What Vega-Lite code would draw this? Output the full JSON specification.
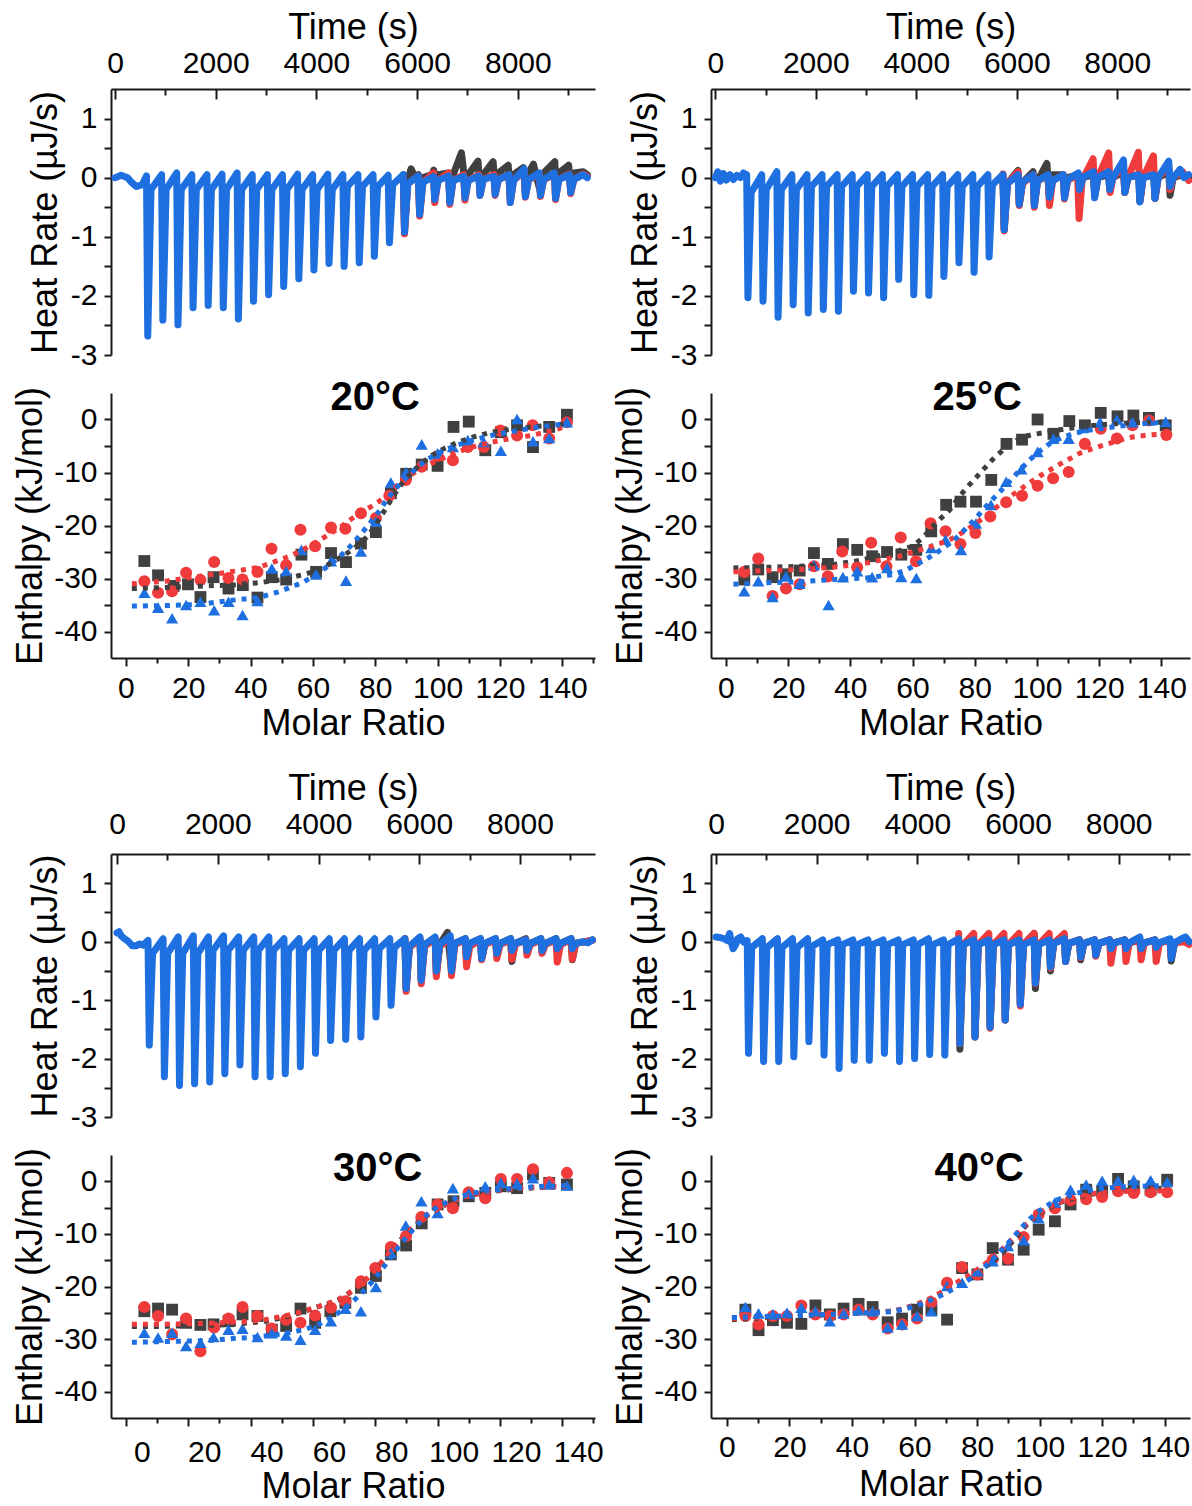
{
"$schema": "https://vega.github.io/schema/vega-lite/v6.json",
"background": "white",
"padding": {"left": 12, "top": 9, "right": 0, "bottom": 0},
"config": {
 "view": {"stroke": null},
 "font": "Liberation Sans",
 "axis": {"grid": false, "domainColor": "#1a1a1a", "tickColor": "#1a1a1a", "domainWidth": 2, "tickWidth": 2, "labelFont": "Liberation Sans", "labelFontSize": 30, "labelColor": "#000000", "titleFont": "Liberation Sans", "titleFontSize": 36, "titleFontWeight": "normal", "titleColor": "#000000", "labelFlush": false, "labelOverlap": false}
},
"datasets": {
 "tAb": [{"t":0,"h":0},{"t":120,"h":0.04},{"t":250,"h":0},{"t":330,"h":-0.08},{"t":420,"h":-0.15},{"t":540,"h":-0.12},
  {"t":625,"h":0.03},{"t":650,"h":-2.68},{"t":715,"h":-0.2},
  {"t":925,"h":0.05},{"t":950,"h":-2.41},{"t":1015,"h":-0.2},
  {"t":1225,"h":0.08},{"t":1250,"h":-2.49},{"t":1315,"h":-0.2},
  {"t":1525,"h":0.05},{"t":1550,"h":-2.2},{"t":1615,"h":-0.2},
  {"t":1825,"h":0.05},{"t":1850,"h":-2.16},{"t":1915,"h":-0.2},
  {"t":2125,"h":0.06},{"t":2150,"h":-2.2},{"t":2215,"h":-0.2},
  {"t":2425,"h":0.08},{"t":2450,"h":-2.39},{"t":2515,"h":-0.2},
  {"t":2725,"h":0.05},{"t":2750,"h":-2.09},{"t":2815,"h":-0.2},
  {"t":3025,"h":0.05},{"t":3050,"h":-1.98},{"t":3115,"h":-0.2},
  {"t":3325,"h":0.05},{"t":3350,"h":-1.84},{"t":3415,"h":-0.2},
  {"t":3625,"h":0.06},{"t":3650,"h":-1.71},{"t":3715,"h":-0.2},
  {"t":3925,"h":0.05},{"t":3950,"h":-1.56},{"t":4015,"h":-0.2},
  {"t":4225,"h":0.06},{"t":4250,"h":-1.45},{"t":4315,"h":-0.2},
  {"t":4525,"h":0.05},{"t":4550,"h":-1.5},{"t":4615,"h":-0.15},
  {"t":4825,"h":0.05},{"t":4850,"h":-1.44},{"t":4915,"h":-0.15},
  {"t":5125,"h":0.05},{"t":5150,"h":-1.33},{"t":5215,"h":-0.15},
  {"t":5425,"h":0.04},{"t":5450,"h":-1.1},{"t":5515,"h":-0.12},
  {"t":5725,"h":0.05},{"t":5750,"h":-0.92},{"t":5815,"h":-0.1},
  {"t":6025,"h":0.03},{"t":6050,"h":-0.62},{"t":6115,"h":-0.08},
  {"t":6325,"h":0.02},{"t":6350,"h":-0.37},{"t":6415,"h":-0.05},
  {"t":6625,"h":0.03},{"t":6650,"h":-0.42},{"t":6715,"h":-0.05},
  {"t":6925,"h":0.02},{"t":6950,"h":-0.34},{"t":7015,"h":-0.05},
  {"t":7225,"h":0.03},{"t":7250,"h":-0.3},{"t":7315,"h":-0.03},
  {"t":7525,"h":0.02},{"t":7550,"h":-0.28},{"t":7615,"h":-0.03},
  {"t":7825,"h":0.05},{"t":7850,"h":-0.42},{"t":7915,"h":-0.05},
  {"t":8125,"h":0.15},{"t":8150,"h":-0.32},{"t":8215,"h":-0.03},
  {"t":8425,"h":0.08},{"t":8450,"h":-0.3},{"t":8515,"h":-0.03},
  {"t":8725,"h":0.08},{"t":8750,"h":-0.35},{"t":8815,"h":-0.03},
  {"t":9025,"h":0.05},{"t":9050,"h":-0.25},{"t":9115,"h":-0.03},
  {"t":9300,"h":0.05},{"t":9380,"h":0}],
 "tAr": [{"t":5725,"h":0.03},{"t":5750,"h":-0.95},{"t":5815,"h":-0.1},{"t":6025,"h":0.03},{"t":6050,"h":-0.65},{"t":6115,"h":-0.08},{"t":6325,"h":0.08},{"t":6350,"h":-0.42},{"t":6415,"h":-0.05},{"t":6625,"h":0.08},{"t":6650,"h":-0.45},{"t":6715,"h":-0.05},{"t":6925,"h":0.05},{"t":6950,"h":-0.38},{"t":7015,"h":-0.05},{"t":7225,"h":0.05},{"t":7250,"h":-0.3},{"t":7315,"h":-0.03},{"t":7525,"h":0.05},{"t":7550,"h":-0.3},{"t":7615,"h":-0.03},{"t":7825,"h":0.05},{"t":7850,"h":-0.42},{"t":7915,"h":-0.05},{"t":8125,"h":0.12},{"t":8150,"h":-0.33},{"t":8215,"h":-0.03},{"t":8425,"h":0.05},{"t":8450,"h":-0.32},{"t":8515,"h":-0.03},{"t":8725,"h":0.05},{"t":8750,"h":-0.37},{"t":8815,"h":-0.03},{"t":9025,"h":0.06},{"t":9050,"h":-0.27},{"t":9115,"h":-0.03},{"t":9300,"h":0.06},{"t":9380,"h":0.02}],
 "tAk": [{"t":5725,"h":0.05},{"t":5750,"h":-0.9},{"t":5815,"h":-0.05},{"t":5880,"h":0.15},{"t":5950,"h":0.02},{"t":6025,"h":0.05},{"t":6050,"h":-0.6},{"t":6115,"h":0},{"t":6300,"h":0.05},{"t":6330,"h":0.13},{"t":6350,"h":-0.35},{"t":6415,"h":0.05},{"t":6625,"h":0.08},{"t":6650,"h":-0.38},{"t":6715,"h":0.05},{"t":6880,"h":0.42},{"t":6925,"h":0.1},{"t":6950,"h":-0.3},{"t":7015,"h":0.05},{"t":7210,"h":0.28},{"t":7250,"h":-0.25},{"t":7315,"h":0.05},{"t":7510,"h":0.27},{"t":7550,"h":-0.2},{"t":7615,"h":0.08},{"t":7810,"h":0.21},{"t":7850,"h":-0.35},{"t":7915,"h":0.05},{"t":8110,"h":0.17},{"t":8150,"h":-0.25},{"t":8215,"h":0.08},{"t":8310,"h":0.23},{"t":8360,"h":0.05},{"t":8450,"h":-0.25},{"t":8515,"h":0.08},{"t":8735,"h":0.27},{"t":8760,"h":-0.3},{"t":8815,"h":0.08},{"t":9010,"h":0.21},{"t":9050,"h":-0.2},{"t":9115,"h":0.08},{"t":9300,"h":0.1},{"t":9380,"h":0.05}],
 "tBb": [{"t":0,"h":0},{"t":50,"h":0.1},{"t":100,"h":-0.06},{"t":160,"h":0.07},{"t":220,"h":-0.04},{"t":290,"h":0.05},{"t":360,"h":-0.03},{"t":430,"h":0.04},{"t":500,"h":0},{"t":560,"h":0.08},{"t":600,"h":0.02},
  {"t":625,"h":0.05},{"t":650,"h":-2.03},{"t":715,"h":-0.25},
  {"t":925,"h":0.05},{"t":950,"h":-2.09},{"t":1015,"h":-0.2},
  {"t":1225,"h":0.1},{"t":1250,"h":-2.36},{"t":1315,"h":-0.2},
  {"t":1525,"h":0.05},{"t":1550,"h":-2.15},{"t":1615,"h":-0.2},
  {"t":1825,"h":0.05},{"t":1850,"h":-2.29},{"t":1915,"h":-0.15},
  {"t":2125,"h":0.05},{"t":2150,"h":-2.23},{"t":2215,"h":-0.15},
  {"t":2425,"h":0.05},{"t":2450,"h":-2.26},{"t":2515,"h":-0.15},
  {"t":2725,"h":0.05},{"t":2750,"h":-1.92},{"t":2815,"h":-0.15},
  {"t":3025,"h":0.05},{"t":3050,"h":-1.95},{"t":3115,"h":-0.15},
  {"t":3325,"h":0.05},{"t":3350,"h":-2.03},{"t":3415,"h":-0.15},
  {"t":3625,"h":0.05},{"t":3650,"h":-1.72},{"t":3715,"h":-0.15},
  {"t":3925,"h":0.05},{"t":3950,"h":-1.98},{"t":4015,"h":-0.15},
  {"t":4225,"h":0.05},{"t":4250,"h":-1.99},{"t":4315,"h":-0.15},
  {"t":4525,"h":0.05},{"t":4550,"h":-1.67},{"t":4615,"h":-0.15},
  {"t":4825,"h":0.05},{"t":4850,"h":-1.44},{"t":4915,"h":-0.15},
  {"t":5125,"h":0.05},{"t":5150,"h":-1.6},{"t":5215,"h":-0.15},
  {"t":5425,"h":0.05},{"t":5450,"h":-1.34},{"t":5515,"h":-0.12},
  {"t":5725,"h":0.05},{"t":5750,"h":-0.88},{"t":5815,"h":-0.1},
  {"t":6025,"h":0.05},{"t":6050,"h":-0.45},{"t":6115,"h":-0.08},
  {"t":6325,"h":0.05},{"t":6350,"h":-0.47},{"t":6415,"h":-0.05},
  {"t":6625,"h":0.05},{"t":6650,"h":-0.33},{"t":6715,"h":-0.05},
  {"t":6925,"h":0.05},{"t":6950,"h":-0.34},{"t":7015,"h":-0.03},
  {"t":7225,"h":0.08},{"t":7250,"h":-0.2},{"t":7315,"h":0},
  {"t":7525,"h":0.1},{"t":7550,"h":-0.34},{"t":7615,"h":0},
  {"t":7825,"h":0.1},{"t":7850,"h":-0.2},{"t":7915,"h":0},
  {"t":8125,"h":0.3},{"t":8150,"h":-0.25},{"t":8215,"h":0},
  {"t":8425,"h":0.05},{"t":8450,"h":-0.41},{"t":8515,"h":0},
  {"t":8725,"h":0.05},{"t":8750,"h":-0.35},{"t":8815,"h":0},
  {"t":9025,"h":0.28},{"t":9050,"h":-0.15},{"t":9115,"h":0},
  {"t":9250,"h":0.14},{"t":9330,"h":0},{"t":9420,"h":0.05}],
 "tBr": [{"t":5725,"h":0.06},{"t":5750,"h":-0.9},{"t":5815,"h":-0.1},{"t":6025,"h":0.1},{"t":6050,"h":-0.47},{"t":6115,"h":-0.1},{"t":6325,"h":0.05},{"t":6350,"h":-0.5},{"t":6415,"h":-0.05},{"t":6625,"h":0.03},{"t":6650,"h":-0.47},{"t":6715,"h":-0.05},{"t":6925,"h":0.05},{"t":6950,"h":-0.36},{"t":7015,"h":-0.05},{"t":7210,"h":0.05},{"t":7240,"h":-0.69},{"t":7300,"h":-0.05},{"t":7520,"h":0.32},{"t":7555,"h":-0.3},{"t":7615,"h":0},{"t":7830,"h":0.42},{"t":7860,"h":-0.25},{"t":7915,"h":0},{"t":8125,"h":0.2},{"t":8150,"h":-0.25},{"t":8215,"h":0},{"t":8420,"h":0.43},{"t":8455,"h":-0.4},{"t":8515,"h":0},{"t":8720,"h":0.37},{"t":8755,"h":-0.35},{"t":8815,"h":0},{"t":9025,"h":0.2},{"t":9050,"h":-0.2},{"t":9115,"h":0},{"t":9300,"h":0.1},{"t":9420,"h":-0.05}],
 "tBk": [{"t":5725,"h":0.05},{"t":5750,"h":-0.88},{"t":5815,"h":-0.1},{"t":6025,"h":0.12},{"t":6050,"h":-0.45},{"t":6115,"h":-0.08},{"t":6325,"h":0.1},{"t":6350,"h":-0.45},{"t":6415,"h":-0.05},{"t":6600,"h":0.24},{"t":6650,"h":-0.35},{"t":6715,"h":0.05},{"t":6925,"h":0.05},{"t":6950,"h":-0.3},{"t":7015,"h":0},{"t":7225,"h":0.05},{"t":7250,"h":-0.2},{"t":7315,"h":0},{"t":7525,"h":0.05},{"t":7550,"h":-0.3},{"t":7615,"h":0},{"t":7825,"h":0.05},{"t":7850,"h":-0.2},{"t":7915,"h":0},{"t":8125,"h":0.1},{"t":8150,"h":-0.25},{"t":8215,"h":0},{"t":8425,"h":0.05},{"t":8450,"h":-0.4},{"t":8515,"h":0},{"t":8725,"h":0.05},{"t":8750,"h":-0.35},{"t":8815,"h":0},{"t":9025,"h":0.1},{"t":9050,"h":-0.3},{"t":9115,"h":0},{"t":9300,"h":0.05},{"t":9420,"h":0}],
 "tCb": [{"t":0,"h":0.15},{"t":40,"h":0.17},{"t":80,"h":0.1},{"t":150,"h":0.05},{"t":230,"h":0},{"t":300,"h":-0.07},{"t":380,"h":-0.07},{"t":450,"h":-0.04},{"t":520,"h":-0.06},{"t":590,"h":0},
  {"t":615,"h":0.02},{"t":640,"h":-1.77},{"t":705,"h":-0.2},
  {"t":915,"h":0.05},{"t":940,"h":-2.31},{"t":1005,"h":-0.2},
  {"t":1215,"h":0.08},{"t":1240,"h":-2.46},{"t":1305,"h":-0.2},
  {"t":1515,"h":0.1},{"t":1540,"h":-2.43},{"t":1605,"h":-0.2},
  {"t":1815,"h":0.08},{"t":1840,"h":-2.4},{"t":1905,"h":-0.15},
  {"t":2115,"h":0.1},{"t":2140,"h":-2.26},{"t":2205,"h":-0.15},
  {"t":2415,"h":0.08},{"t":2440,"h":-2.11},{"t":2505,"h":-0.15},
  {"t":2715,"h":0.08},{"t":2740,"h":-2.31},{"t":2805,"h":-0.15},
  {"t":3015,"h":0.08},{"t":3040,"h":-2.31},{"t":3105,"h":-0.15},
  {"t":3315,"h":0.05},{"t":3340,"h":-2.26},{"t":3405,"h":-0.15},
  {"t":3615,"h":0.05},{"t":3640,"h":-2.14},{"t":3705,"h":-0.15},
  {"t":3915,"h":0.05},{"t":3940,"h":-1.91},{"t":4005,"h":-0.15},
  {"t":4215,"h":0.05},{"t":4240,"h":-1.69},{"t":4305,"h":-0.15},
  {"t":4515,"h":0.05},{"t":4540,"h":-1.67},{"t":4605,"h":-0.15},
  {"t":4815,"h":0.05},{"t":4840,"h":-1.63},{"t":4905,"h":-0.15},
  {"t":5115,"h":0.05},{"t":5140,"h":-1.29},{"t":5205,"h":-0.12},
  {"t":5415,"h":0.05},{"t":5440,"h":-1.09},{"t":5505,"h":-0.1},
  {"t":5715,"h":0.05},{"t":5740,"h":-0.8},{"t":5805,"h":-0.08},
  {"t":6015,"h":0.08},{"t":6040,"h":-0.66},{"t":6105,"h":-0.05},
  {"t":6315,"h":0.08},{"t":6340,"h":-0.5},{"t":6405,"h":-0.05},
  {"t":6615,"h":0.1},{"t":6640,"h":-0.5},{"t":6705,"h":-0.03},
  {"t":6915,"h":0.05},{"t":6940,"h":-0.26},{"t":7005,"h":-0.03},
  {"t":7215,"h":0.05},{"t":7240,"h":-0.29},{"t":7305,"h":-0.03},
  {"t":7515,"h":0.05},{"t":7540,"h":-0.2},{"t":7605,"h":-0.03},
  {"t":7815,"h":0.05},{"t":7840,"h":-0.15},{"t":7905,"h":-0.03},
  {"t":8115,"h":0.03},{"t":8140,"h":-0.15},{"t":8205,"h":-0.03},
  {"t":8415,"h":0.05},{"t":8440,"h":-0.15},{"t":8505,"h":-0.03},
  {"t":8715,"h":0.05},{"t":8740,"h":-0.12},{"t":8805,"h":-0.03},
  {"t":9015,"h":0.05},{"t":9040,"h":-0.12},{"t":9105,"h":-0.03},
  {"t":9250,"h":0},{"t":9350,"h":-0.02},{"t":9440,"h":0.03}],
 "tCr": [{"t":5715,"h":0.05},{"t":5740,"h":-0.85},{"t":5805,"h":-0.1},{"t":6015,"h":0.05},{"t":6040,"h":-0.72},{"t":6105,"h":-0.08},{"t":6315,"h":0.05},{"t":6340,"h":-0.6},{"t":6405,"h":-0.08},{"t":6615,"h":0.05},{"t":6640,"h":-0.58},{"t":6705,"h":-0.05},{"t":6915,"h":0.03},{"t":6940,"h":-0.43},{"t":7005,"h":-0.08},{"t":7215,"h":0.03},{"t":7240,"h":-0.31},{"t":7305,"h":-0.05},{"t":7515,"h":0.03},{"t":7540,"h":-0.29},{"t":7605,"h":-0.05},{"t":7815,"h":0.03},{"t":7840,"h":-0.3},{"t":7905,"h":-0.05},{"t":8115,"h":0.03},{"t":8140,"h":-0.23},{"t":8205,"h":-0.05},{"t":8415,"h":0.03},{"t":8440,"h":-0.2},{"t":8505,"h":-0.05},{"t":8715,"h":0.03},{"t":8740,"h":-0.35},{"t":8805,"h":-0.05},{"t":9015,"h":0.03},{"t":9040,"h":-0.3},{"t":9105,"h":-0.03},{"t":9300,"h":0},{"t":9440,"h":0.02}],
 "tCk": [{"t":5715,"h":0.05},{"t":5740,"h":-0.8},{"t":5805,"h":-0.08},{"t":6015,"h":0.05},{"t":6040,"h":-0.66},{"t":6105,"h":-0.05},{"t":6315,"h":0.05},{"t":6340,"h":-0.56},{"t":6405,"h":-0.05},{"t":6560,"h":0.16},{"t":6640,"h":-0.5},{"t":6705,"h":-0.03},{"t":6915,"h":0.05},{"t":6940,"h":-0.3},{"t":7005,"h":-0.03},{"t":7215,"h":0.05},{"t":7240,"h":-0.29},{"t":7305,"h":-0.03},{"t":7515,"h":0.05},{"t":7540,"h":-0.22},{"t":7605,"h":-0.03},{"t":7815,"h":0.05},{"t":7840,"h":-0.34},{"t":7905,"h":-0.03},{"t":8115,"h":0.05},{"t":8140,"h":-0.18},{"t":8205,"h":-0.03},{"t":8415,"h":0.05},{"t":8440,"h":-0.18},{"t":8505,"h":-0.03},{"t":8715,"h":0.05},{"t":8740,"h":-0.15},{"t":8805,"h":-0.03},{"t":9015,"h":0.05},{"t":9040,"h":-0.31},{"t":9105,"h":-0.03},{"t":9300,"h":0},{"t":9440,"h":0.03}],
 "tDb": [{"t":0,"h":0.08},{"t":80,"h":0.07},{"t":160,"h":0.05},{"t":220,"h":0.02},{"t":270,"h":0.14},{"t":300,"h":0},{"t":340,"h":-0.12},{"t":390,"h":-0.05},{"t":430,"h":0.05},{"t":490,"h":0.08},{"t":540,"h":0},{"t":600,"h":-0.03},
  {"t":620,"h":0.02},{"t":645,"h":-1.91},{"t":710,"h":-0.1},
  {"t":920,"h":0.05},{"t":945,"h":-2.05},{"t":1010,"h":-0.1},
  {"t":1220,"h":0.05},{"t":1245,"h":-2.05},{"t":1310,"h":-0.1},
  {"t":1520,"h":0.05},{"t":1545,"h":-1.97},{"t":1610,"h":-0.1},
  {"t":1820,"h":0.05},{"t":1845,"h":-1.71},{"t":1910,"h":-0.08},
  {"t":2120,"h":0.03},{"t":2145,"h":-1.94},{"t":2210,"h":-0.05},
  {"t":2420,"h":0.03},{"t":2445,"h":-2.17},{"t":2510,"h":-0.05},
  {"t":2720,"h":0.03},{"t":2745,"h":-2.03},{"t":2810,"h":-0.05},
  {"t":3020,"h":0.03},{"t":3045,"h":-2.03},{"t":3110,"h":-0.05},
  {"t":3320,"h":0.03},{"t":3345,"h":-1.91},{"t":3410,"h":-0.05},
  {"t":3620,"h":0.03},{"t":3645,"h":-2.05},{"t":3710,"h":-0.05},
  {"t":3920,"h":0.03},{"t":3945,"h":-2.0},{"t":4010,"h":-0.05},
  {"t":4220,"h":0.05},{"t":4245,"h":-1.93},{"t":4310,"h":-0.05},
  {"t":4520,"h":0.03},{"t":4545,"h":-1.94},{"t":4610,"h":-0.05},
  {"t":4820,"h":0.05},{"t":4845,"h":-1.74},{"t":4910,"h":-0.05},
  {"t":5120,"h":0.03},{"t":5145,"h":-1.63},{"t":5210,"h":-0.05},
  {"t":5420,"h":0.03},{"t":5445,"h":-1.46},{"t":5510,"h":-0.05},
  {"t":5720,"h":0.03},{"t":5745,"h":-1.34},{"t":5810,"h":-0.05},
  {"t":6020,"h":0.03},{"t":6045,"h":-1.07},{"t":6110,"h":-0.05},
  {"t":6320,"h":0.03},{"t":6345,"h":-0.71},{"t":6410,"h":-0.05},
  {"t":6620,"h":0.03},{"t":6645,"h":-0.43},{"t":6710,"h":-0.03},
  {"t":6920,"h":0.05},{"t":6945,"h":-0.34},{"t":7010,"h":-0.03},
  {"t":7220,"h":0.03},{"t":7245,"h":-0.26},{"t":7310,"h":-0.03},
  {"t":7520,"h":0.03},{"t":7545,"h":-0.23},{"t":7610,"h":-0.03},
  {"t":7820,"h":0.03},{"t":7845,"h":-0.12},{"t":7910,"h":-0.02},
  {"t":8120,"h":0.03},{"t":8145,"h":-0.12},{"t":8210,"h":-0.02},
  {"t":8420,"h":0.08},{"t":8445,"h":-0.12},{"t":8510,"h":-0.02},
  {"t":8720,"h":0.03},{"t":8745,"h":-0.1},{"t":8810,"h":-0.02},
  {"t":9020,"h":0.05},{"t":9045,"h":-0.29},{"t":9110,"h":-0.02},
  {"t":9250,"h":0.05},{"t":9330,"h":0.08},{"t":9400,"h":0}],
 "tDr": [{"t":4820,"h":0.14},{"t":4845,"h":-1.74},{"t":4910,"h":-0.05},{"t":5120,"h":0.14},{"t":5145,"h":-1.63},{"t":5210,"h":-0.05},{"t":5420,"h":0.14},{"t":5445,"h":-1.48},{"t":5510,"h":-0.05},{"t":5720,"h":0.14},{"t":5745,"h":-1.34},{"t":5810,"h":-0.05},{"t":6020,"h":0.14},{"t":6045,"h":-1.1},{"t":6110,"h":-0.05},{"t":6320,"h":0.14},{"t":6345,"h":-0.72},{"t":6410,"h":-0.05},{"t":6620,"h":0.14},{"t":6645,"h":-0.45},{"t":6710,"h":-0.03},{"t":6920,"h":0.14},{"t":6945,"h":-0.34},{"t":7010,"h":-0.03},{"t":7220,"h":0.03},{"t":7245,"h":-0.27},{"t":7310,"h":-0.03},{"t":7520,"h":0.03},{"t":7545,"h":-0.25},{"t":7610,"h":-0.03},{"t":7820,"h":0.03},{"t":7845,"h":-0.37},{"t":7910,"h":-0.02},{"t":8120,"h":0.03},{"t":8145,"h":-0.34},{"t":8210,"h":-0.02},{"t":8420,"h":0.03},{"t":8445,"h":-0.31},{"t":8510,"h":-0.02},{"t":8720,"h":0.03},{"t":8745,"h":-0.34},{"t":8810,"h":-0.02},{"t":9020,"h":0.03},{"t":9045,"h":-0.27},{"t":9110,"h":-0.02},{"t":9300,"h":0},{"t":9400,"h":-0.05}],
 "tDk": [{"t":4820,"h":0.05},{"t":4845,"h":-1.84},{"t":4910,"h":-0.05},{"t":5120,"h":0.03},{"t":5145,"h":-1.63},{"t":5210,"h":-0.05},{"t":5420,"h":0.03},{"t":5445,"h":-1.46},{"t":5510,"h":-0.05},{"t":5720,"h":0.03},{"t":5745,"h":-1.34},{"t":5810,"h":-0.05},{"t":6020,"h":0.03},{"t":6045,"h":-1.07},{"t":6110,"h":-0.05},{"t":6320,"h":0.14},{"t":6345,"h":-0.8},{"t":6410,"h":-0.05},{"t":6620,"h":0.05},{"t":6645,"h":-0.5},{"t":6710,"h":-0.03},{"t":6920,"h":0.05},{"t":6945,"h":-0.34},{"t":7010,"h":-0.03},{"t":7220,"h":0.03},{"t":7245,"h":-0.31},{"t":7310,"h":-0.03},{"t":7520,"h":0.03},{"t":7545,"h":-0.23},{"t":7610,"h":-0.03},{"t":7820,"h":0.03},{"t":7845,"h":-0.15},{"t":7910,"h":-0.02},{"t":8120,"h":0.03},{"t":8145,"h":-0.15},{"t":8210,"h":-0.02},{"t":8420,"h":0.03},{"t":8445,"h":-0.15},{"t":8510,"h":-0.02},{"t":8720,"h":0.03},{"t":8745,"h":-0.12},{"t":8810,"h":-0.02},{"t":9020,"h":0.03},{"t":9045,"h":-0.33},{"t":9110,"h":-0.02},{"t":9300,"h":0.05},{"t":9400,"h":0}],
 "iA": [
  {"s":"k","x":5.9,"y":-26.7},{"s":"k","x":10.3,"y":-29.4},{"s":"k","x":15.3,"y":-31.4},{"s":"k","x":19.9,"y":-31.1},{"s":"k","x":23.9,"y":-33.5},{"s":"k","x":28.1,"y":-29.75},{"s":"k","x":32.9,"y":-31.9},{"s":"k","x":37.5,"y":-31.25},{"s":"k","x":42.2,"y":-33.6},{"s":"k","x":46.8,"y":-29.75},{"s":"k","x":51.4,"y":-30.2},{"s":"k","x":56.3,"y":-25.5},{"s":"k","x":61,"y":-28.75},{"s":"k","x":65.8,"y":-25.2},{"s":"k","x":70.6,"y":-26.9},{"s":"k","x":75.4,"y":-23.4},{"s":"k","x":80.2,"y":-21.25},{"s":"k","x":85,"y":-13.9},{"s":"k","x":89.9,"y":-10.25},{"s":"k","x":94.9,"y":-8.5},{"s":"k","x":100,"y":-8.75},{"s":"k","x":105.1,"y":-1.4},{"s":"k","x":110,"y":-0.4},{"s":"k","x":115.3,"y":-5.8},{"s":"k","x":120.3,"y":-2.4},{"s":"k","x":125.5,"y":-1.1},{"s":"k","x":130.6,"y":-5.2},{"s":"k","x":135.8,"y":-1.4},{"s":"k","x":141.5,"y":0.9},
  {"s":"r","x":5.9,"y":-30.5},{"s":"r","x":10.3,"y":-32.7},{"s":"r","x":14.8,"y":-32.4},{"s":"r","x":19.3,"y":-28.9},{"s":"r","x":23.9,"y":-30.3},{"s":"r","x":28.3,"y":-26.9},{"s":"r","x":32.9,"y":-29.9},{"s":"r","x":37.4,"y":-30.2},{"s":"r","x":42.2,"y":-28.75},{"s":"r","x":46.7,"y":-24.4},{"s":"r","x":51.4,"y":-27.5},{"s":"r","x":56,"y":-20.8},{"s":"r","x":60.7,"y":-23.9},{"s":"r","x":65.8,"y":-20.4},{"s":"r","x":70.4,"y":-20.6},{"s":"r","x":75.4,"y":-17.7},{"s":"r","x":80.2,"y":-18.6},{"s":"r","x":84.5,"y":-14.4},{"s":"r","x":89.8,"y":-11.4},{"s":"r","x":94.9,"y":-8.9},{"s":"r","x":100,"y":-6.9},{"s":"r","x":104.9,"y":-7.7},{"s":"r","x":109.7,"y":-5.2},{"s":"r","x":114.8,"y":-5.2},{"s":"r","x":120.1,"y":-2.1},{"s":"r","x":125.5,"y":-3},{"s":"r","x":130.5,"y":-1.1},{"s":"r","x":135.8,"y":-3.6},{"s":"r","x":141.5,"y":-0.5},
  {"s":"b","x":5.9,"y":-32.7},{"s":"b","x":10.3,"y":-35.5},{"s":"b","x":14.8,"y":-37.5},{"s":"b","x":19.3,"y":-35},{"s":"b","x":23.9,"y":-34.4},{"s":"b","x":28.3,"y":-36},{"s":"b","x":32.9,"y":-34.4},{"s":"b","x":37.4,"y":-36.9},{"s":"b","x":42.2,"y":-34.25},{"s":"b","x":46.8,"y":-28.1},{"s":"b","x":51.4,"y":-28.6},{"s":"b","x":56.3,"y":-24.6},{"s":"b","x":61,"y":-29.25},{"s":"b","x":65.8,"y":-26.75},{"s":"b","x":70.6,"y":-30.4},{"s":"b","x":75.4,"y":-24.9},{"s":"b","x":80.2,"y":-19.25},{"s":"b","x":85,"y":-11.9},{"s":"b","x":89.9,"y":-9.9},{"s":"b","x":94.9,"y":-4.7},{"s":"b","x":100,"y":-6.4},{"s":"b","x":104.9,"y":-5.2},{"s":"b","x":109.7,"y":-3.9},{"s":"b","x":114.8,"y":-4.25},{"s":"b","x":120.3,"y":-5.9},{"s":"b","x":125.5,"y":0.1},{"s":"b","x":130.6,"y":-4.1},{"s":"b","x":135.8,"y":-3.5},{"s":"b","x":141.5,"y":-0.5}],
 "fA": [
  {"s":"k","x":1.9,"y":-31.9},{"s":"k","x":12,"y":-31.7},{"s":"k","x":25,"y":-31.4},{"s":"k","x":35,"y":-31.2},{"s":"k","x":42.6,"y":-30.8},{"s":"k","x":50,"y":-30.2},{"s":"k","x":57,"y":-29.25},{"s":"k","x":62,"y":-28.4},{"s":"k","x":66,"y":-27},{"s":"k","x":69.5,"y":-25.8},{"s":"k","x":72.5,"y":-24.6},{"s":"k","x":75.5,"y":-23.2},{"s":"k","x":77.9,"y":-21.75},{"s":"k","x":80,"y":-20},{"s":"k","x":82.1,"y":-18},{"s":"k","x":84.2,"y":-16},{"s":"k","x":86.4,"y":-13.9},{"s":"k","x":89,"y":-11.7},{"s":"k","x":91.8,"y":-9.9},{"s":"k","x":95,"y":-8.2},{"s":"k","x":98.2,"y":-6.75},{"s":"k","x":102,"y":-5.5},{"s":"k","x":106.7,"y":-4.25},{"s":"k","x":112,"y":-3.2},{"s":"k","x":117.4,"y":-2.4},{"s":"k","x":124,"y":-1.8},{"s":"k","x":130.3,"y":-1.4},{"s":"k","x":136,"y":-1.1},{"s":"k","x":141.5,"y":-0.8},
  {"s":"r","x":1.9,"y":-31},{"s":"r","x":12.6,"y":-30.5},{"s":"r","x":23.3,"y":-29.6},{"s":"r","x":35.1,"y":-28.6},{"s":"r","x":42.6,"y":-27.9},{"s":"r","x":51.1,"y":-26.1},{"s":"r","x":55.5,"y":-25},{"s":"r","x":59.7,"y":-23.6},{"s":"r","x":64,"y":-22.1},{"s":"r","x":68.3,"y":-20.5},{"s":"r","x":72,"y":-18.9},{"s":"r","x":75.7,"y":-17.4},{"s":"r","x":78.5,"y":-16.5},{"s":"r","x":81.1,"y":-15.5},{"s":"r","x":85.3,"y":-13.3},{"s":"r","x":89,"y":-11.5},{"s":"r","x":92.8,"y":-9.9},{"s":"r","x":97,"y":-8.5},{"s":"r","x":101.4,"y":-7.4},{"s":"r","x":106,"y":-6.2},{"s":"r","x":111,"y":-5.2},{"s":"r","x":115.8,"y":-4.5},{"s":"r","x":120.6,"y":-3.9},{"s":"r","x":125.5,"y":-3.4},{"s":"r","x":130.3,"y":-3},{"s":"r","x":134.5,"y":-2.4},{"s":"r","x":138.8,"y":-1.75},{"s":"r","x":141.5,"y":-1.1},
  {"s":"b","x":1.9,"y":-35.2},{"s":"b","x":12.6,"y":-35.1},{"s":"b","x":23.3,"y":-34.9},{"s":"b","x":34,"y":-34.1},{"s":"b","x":42.6,"y":-33.6},{"s":"b","x":49.6,"y":-32.4},{"s":"b","x":56.5,"y":-30.8},{"s":"b","x":60.5,"y":-29.5},{"s":"b","x":64,"y":-28},{"s":"b","x":67.3,"y":-26.5},{"s":"b","x":70.4,"y":-24.9},{"s":"b","x":73,"y":-23.3},{"s":"b","x":75.7,"y":-21.4},{"s":"b","x":78.5,"y":-19.4},{"s":"b","x":81.1,"y":-17.4},{"s":"b","x":83.2,"y":-15.6},{"s":"b","x":85.3,"y":-13.9},{"s":"b","x":88,"y":-12.1},{"s":"b","x":90.7,"y":-10.5},{"s":"b","x":94,"y":-8.8},{"s":"b","x":97.1,"y":-7.4},{"s":"b","x":100.8,"y":-6.2},{"s":"b","x":104.6,"y":-5.2},{"s":"b","x":109,"y":-4.3},{"s":"b","x":113.2,"y":-3.6},{"s":"b","x":118,"y":-2.9},{"s":"b","x":122.8,"y":-2.4},{"s":"b","x":127.5,"y":-1.9},{"s":"b","x":132.4,"y":-1.4},{"s":"b","x":137,"y":-1.1},{"s":"b","x":141.5,"y":-0.8}],
 "iB": [
  {"s":"k","x":5.9,"y":-30.2},{"s":"k","x":10.4,"y":-28.3},{"s":"k","x":15,"y":-29.75},{"s":"k","x":19.3,"y":-29.2},{"s":"k","x":23.7,"y":-28.5},{"s":"k","x":28.3,"y":-25.2},{"s":"k","x":32.8,"y":-27.25},{"s":"k","x":37.6,"y":-23.5},{"s":"k","x":42.2,"y":-24.6},{"s":"k","x":47,"y":-25.8},{"s":"k","x":51.8,"y":-25},{"s":"k","x":56.4,"y":-25.5},{"s":"k","x":61.2,"y":-24.6},{"s":"k","x":66,"y":-21.1},{"s":"k","x":70.8,"y":-16.1},{"s":"k","x":75.4,"y":-15.5},{"s":"k","x":80.4,"y":-15.5},{"s":"k","x":85.3,"y":-11.4},{"s":"k","x":90.2,"y":-4.6},{"s":"k","x":95.2,"y":-3.8},{"s":"k","x":100.2,"y":0},{"s":"k","x":105.3,"y":-2.7},{"s":"k","x":110.4,"y":-0.3},{"s":"k","x":115.4,"y":-1.1},{"s":"k","x":120.5,"y":1.25},{"s":"k","x":125.9,"y":0.6},{"s":"k","x":131,"y":0.75},{"s":"k","x":136,"y":0.3},{"s":"k","x":141.4,"y":-1.1},
  {"s":"r","x":5.9,"y":-28.75},{"s":"r","x":10.4,"y":-26.25},{"s":"r","x":15,"y":-33.3},{"s":"r","x":19.3,"y":-31.9},{"s":"r","x":23.7,"y":-31.1},{"s":"r","x":28.3,"y":-27.7},{"s":"r","x":32.8,"y":-29.6},{"s":"r","x":37.4,"y":-24.9},{"s":"r","x":42.2,"y":-27.9},{"s":"r","x":46.7,"y":-23.25},{"s":"r","x":51.6,"y":-27.7},{"s":"r","x":56.2,"y":-22.25},{"s":"r","x":61.1,"y":-26.75},{"s":"r","x":65.8,"y":-19.6},{"s":"r","x":70.6,"y":-21.1},{"s":"r","x":75.4,"y":-23.5},{"s":"r","x":80.2,"y":-21.4},{"s":"r","x":85,"y":-18.3},{"s":"r","x":90.1,"y":-15.6},{"s":"r","x":95.2,"y":-14.4},{"s":"r","x":100.2,"y":-12.5},{"s":"r","x":105.2,"y":-11.1},{"s":"r","x":110.2,"y":-9.9},{"s":"r","x":115.4,"y":-4.6},{"s":"r","x":120.5,"y":-1.75},{"s":"r","x":125.7,"y":-3.6},{"s":"r","x":130.7,"y":-1.1},{"s":"r","x":136,"y":-0.2},{"s":"r","x":141.6,"y":-2.9},
  {"s":"b","x":5.9,"y":-32.4},{"s":"b","x":10.4,"y":-30.5},{"s":"b","x":15,"y":-33.5},{"s":"b","x":19.3,"y":-29.6},{"s":"b","x":23.7,"y":-31},{"s":"b","x":28.3,"y":-27.5},{"s":"b","x":33,"y":-35},{"s":"b","x":37.6,"y":-29.75},{"s":"b","x":42.2,"y":-28.6},{"s":"b","x":47,"y":-29.75},{"s":"b","x":51.8,"y":-28},{"s":"b","x":56.4,"y":-29.7},{"s":"b","x":61.2,"y":-29.9},{"s":"b","x":66,"y":-24.25},{"s":"b","x":70.6,"y":-22.7},{"s":"b","x":75.6,"y":-24.6},{"s":"b","x":80.4,"y":-19.6},{"s":"b","x":85.2,"y":-16.1},{"s":"b","x":90.1,"y":-11.75},{"s":"b","x":95,"y":-9.4},{"s":"b","x":100.2,"y":-6.1},{"s":"b","x":105.3,"y":-3.6},{"s":"b","x":110.2,"y":-3.6},{"s":"b","x":114.7,"y":-1.6},{"s":"b","x":120.3,"y":-0.5},{"s":"b","x":125.7,"y":0},{"s":"b","x":130.7,"y":-0.5},{"s":"b","x":136,"y":-0.2},{"s":"b","x":141.4,"y":-0.4}],
 "fB": [
  {"s":"k","x":2.4,"y":-28},{"s":"k","x":13,"y":-27.9},{"s":"k","x":23.7,"y":-27.7},{"s":"k","x":34.4,"y":-27.4},{"s":"k","x":43,"y":-26.6},{"s":"k","x":51.6,"y":-25.4},{"s":"k","x":56,"y":-24.7},{"s":"k","x":60.1,"y":-23.9},{"s":"k","x":63.5,"y":-22.2},{"s":"k","x":66.5,"y":-20.2},{"s":"k","x":69,"y":-18.7},{"s":"k","x":71.9,"y":-17.1},{"s":"k","x":74.5,"y":-15},{"s":"k","x":77.2,"y":-13},{"s":"k","x":80.5,"y":-10.9},{"s":"k","x":83.6,"y":-8.9},{"s":"k","x":86.3,"y":-7.2},{"s":"k","x":89,"y":-5.8},{"s":"k","x":92,"y":-4.4},{"s":"k","x":95.4,"y":-3.3},{"s":"k","x":99,"y":-2.8},{"s":"k","x":102.9,"y":-2.4},{"s":"k","x":109.3,"y":-1.75},{"s":"k","x":114.5,"y":-1.35},{"s":"k","x":120,"y":-1},{"s":"k","x":125.5,"y":-0.8},{"s":"k","x":130.7,"y":-0.6},{"s":"k","x":136,"y":-0.5},{"s":"k","x":141.4,"y":-0.5},
  {"s":"r","x":2.4,"y":-28.75},{"s":"r","x":13,"y":-28.5},{"s":"r","x":23.7,"y":-28.3},{"s":"r","x":34.4,"y":-27.9},{"s":"r","x":45.1,"y":-27.1},{"s":"r","x":55.8,"y":-25.8},{"s":"r","x":60,"y":-25},{"s":"r","x":64.4,"y":-24.25},{"s":"r","x":68.8,"y":-23.4},{"s":"r","x":72.9,"y":-22.4},{"s":"r","x":76.7,"y":-21.1},{"s":"r","x":80.4,"y":-19.6},{"s":"r","x":84.2,"y":-17.9},{"s":"r","x":87.9,"y":-16.1},{"s":"r","x":92.2,"y":-14.2},{"s":"r","x":96.5,"y":-12.4},{"s":"r","x":100.8,"y":-10.7},{"s":"r","x":105,"y":-9.25},{"s":"r","x":109.3,"y":-7.8},{"s":"r","x":113.6,"y":-6.4},{"s":"r","x":117.4,"y":-5.6},{"s":"r","x":121.1,"y":-4.9},{"s":"r","x":126,"y":-4},{"s":"r","x":130.7,"y":-3.3},{"s":"r","x":136,"y":-2.9},{"s":"r","x":141.4,"y":-2.7},
  {"s":"b","x":2.4,"y":-31.1},{"s":"b","x":13,"y":-30.8},{"s":"b","x":23.7,"y":-30.6},{"s":"b","x":34.4,"y":-30.2},{"s":"b","x":45.1,"y":-29.9},{"s":"b","x":53.7,"y":-29.25},{"s":"b","x":57.5,"y":-28.5},{"s":"b","x":61.2,"y":-27.4},{"s":"b","x":64.5,"y":-26.3},{"s":"b","x":67.6,"y":-25.2},{"s":"b","x":70.2,"y":-24.1},{"s":"b","x":72.9,"y":-23},{"s":"b","x":75.6,"y":-21.5},{"s":"b","x":78.3,"y":-19.9},{"s":"b","x":81,"y":-18.2},{"s":"b","x":83.6,"y":-16.4},{"s":"b","x":86.8,"y":-14.4},{"s":"b","x":90.1,"y":-12.4},{"s":"b","x":93.8,"y":-10},{"s":"b","x":97.5,"y":-7.7},{"s":"b","x":100.8,"y":-6},{"s":"b","x":104,"y":-4.6},{"s":"b","x":107.7,"y":-3.5},{"s":"b","x":111.4,"y":-2.7},{"s":"b","x":115.7,"y":-2.1},{"s":"b","x":120,"y":-1.75},{"s":"b","x":125.3,"y":-1.35},{"s":"b","x":130.7,"y":-1},{"s":"b","x":136,"y":-0.7},{"s":"b","x":141.4,"y":-0.5}],
 "iC": [
  {"s":"k","x":5.9,"y":-24.7},{"s":"k","x":10.3,"y":-24.2},{"s":"k","x":14.8,"y":-24.4},{"s":"k","x":19.3,"y":-26.9},{"s":"k","x":23.9,"y":-27.3},{"s":"k","x":28.1,"y":-27.2},{"s":"k","x":32.9,"y":-26.6},{"s":"k","x":37.4,"y":-25.3},{"s":"k","x":42.2,"y":-25.6},{"s":"k","x":46.8,"y":-28.2},{"s":"k","x":51.4,"y":-27.5},{"s":"k","x":56,"y":-24.2},{"s":"k","x":60.7,"y":-26.9},{"s":"k","x":65.6,"y":-24.7},{"s":"k","x":70.4,"y":-23.1},{"s":"k","x":75.4,"y":-20.25},{"s":"k","x":80.2,"y":-18},{"s":"k","x":85,"y":-13.9},{"s":"k","x":89.9,"y":-12.2},{"s":"k","x":94.9,"y":-8},{"s":"k","x":100,"y":-4.4},{"s":"k","x":105.1,"y":-3.8},{"s":"k","x":110,"y":-2.85},{"s":"k","x":115.3,"y":-2.2},{"s":"k","x":120.3,"y":-0.95},{"s":"k","x":125.5,"y":-1.3},{"s":"k","x":130.6,"y":1.3},{"s":"k","x":135.8,"y":-0.3},{"s":"k","x":141.5,"y":-0.6},
  {"s":"r","x":5.9,"y":-23.9},{"s":"r","x":10.3,"y":-25.6},{"s":"r","x":14.8,"y":-29.1},{"s":"r","x":19.3,"y":-26.1},{"s":"r","x":23.9,"y":-32.3},{"s":"r","x":28.3,"y":-27.8},{"s":"r","x":32.9,"y":-26.1},{"s":"r","x":37.4,"y":-23.9},{"s":"r","x":42.2,"y":-25.6},{"s":"r","x":46.7,"y":-28},{"s":"r","x":51.4,"y":-26.3},{"s":"r","x":56,"y":-26.9},{"s":"r","x":60.7,"y":-25.5},{"s":"r","x":65.8,"y":-24.05},{"s":"r","x":70.4,"y":-22.8},{"s":"r","x":75.4,"y":-19},{"s":"r","x":80,"y":-16.5},{"s":"r","x":85,"y":-12.5},{"s":"r","x":89.9,"y":-10.4},{"s":"r","x":94.8,"y":-6.8},{"s":"r","x":100,"y":-4.4},{"s":"r","x":104.9,"y":-5.1},{"s":"r","x":110,"y":-2.1},{"s":"r","x":115.3,"y":-3.2},{"s":"r","x":120.3,"y":0.45},{"s":"r","x":125.5,"y":0.45},{"s":"r","x":130.6,"y":2.3},{"s":"r","x":135.8,"y":-0.2},{"s":"r","x":141.5,"y":1.6},
  {"s":"b","x":5.9,"y":-28.8},{"s":"b","x":10.3,"y":-29.7},{"s":"b","x":14.8,"y":-28.8},{"s":"b","x":19.3,"y":-31.3},{"s":"b","x":23.9,"y":-30.7},{"s":"b","x":28.1,"y":-29.6},{"s":"b","x":32.9,"y":-28.2},{"s":"b","x":37.4,"y":-28},{"s":"b","x":42.2,"y":-29.6},{"s":"b","x":46.8,"y":-28.9},{"s":"b","x":51.4,"y":-29.3},{"s":"b","x":56,"y":-30.1},{"s":"b","x":60.7,"y":-28.2},{"s":"b","x":65.8,"y":-26.6},{"s":"b","x":70.4,"y":-24.2},{"s":"b","x":75.4,"y":-24.7},{"s":"b","x":80.2,"y":-20.1},{"s":"b","x":85,"y":-13.6},{"s":"b","x":89.8,"y":-8.4},{"s":"b","x":94.8,"y":-3.8},{"s":"b","x":100,"y":-6},{"s":"b","x":104.9,"y":-1.3},{"s":"b","x":110,"y":-2.3},{"s":"b","x":115.3,"y":-0.95},{"s":"b","x":120.3,"y":-0.3},{"s":"b","x":125.5,"y":-0.45},{"s":"b","x":130.6,"y":0.6},{"s":"b","x":135.8,"y":-0.6},{"s":"b","x":141.5,"y":-0.8}],
 "fC": [
  {"s":"k","x":1.9,"y":-27.6},{"s":"k","x":10,"y":-27.6},{"s":"k","x":18,"y":-27.5},{"s":"k","x":26,"y":-27.4},{"s":"k","x":34,"y":-27.2},{"s":"k","x":40,"y":-26.9},{"s":"k","x":44.7,"y":-26.6},{"s":"k","x":49,"y":-26.1},{"s":"k","x":53.3,"y":-25.5},{"s":"k","x":57,"y":-24.8},{"s":"k","x":60.7,"y":-24},{"s":"k","x":64.5,"y":-23.3},{"s":"k","x":68.2,"y":-22.5},{"s":"k","x":71.5,"y":-21.3},{"s":"k","x":74.7,"y":-19.9},{"s":"k","x":77.5,"y":-18.4},{"s":"k","x":80,"y":-16.8},{"s":"k","x":82.7,"y":-14.9},{"s":"k","x":85.3,"y":-13},{"s":"k","x":88,"y":-11.2},{"s":"k","x":90.7,"y":-9.5},{"s":"k","x":94,"y":-7.8},{"s":"k","x":97.1,"y":-6.3},{"s":"k","x":100.8,"y":-5},{"s":"k","x":104.6,"y":-3.8},{"s":"k","x":109,"y":-2.9},{"s":"k","x":114.2,"y":-2.2},{"s":"k","x":119.5,"y":-1.8},{"s":"k","x":124.9,"y":-1.5},{"s":"k","x":132,"y":-1.2},{"s":"k","x":141,"y":-0.95},
  {"s":"r","x":1.9,"y":-27.2},{"s":"r","x":10,"y":-27.2},{"s":"r","x":18,"y":-27.1},{"s":"r","x":26,"y":-27},{"s":"r","x":34,"y":-26.8},{"s":"r","x":40,"y":-26.6},{"s":"r","x":44.7,"y":-26.3},{"s":"r","x":49,"y":-25.8},{"s":"r","x":53.3,"y":-25.3},{"s":"r","x":57,"y":-24.7},{"s":"r","x":60.7,"y":-24},{"s":"r","x":64.5,"y":-23.3},{"s":"r","x":68.2,"y":-22.5},{"s":"r","x":71.5,"y":-21.3},{"s":"r","x":74.7,"y":-19.9},{"s":"r","x":77.5,"y":-18.4},{"s":"r","x":80,"y":-16.8},{"s":"r","x":82.7,"y":-14.9},{"s":"r","x":85.3,"y":-13},{"s":"r","x":88,"y":-11.2},{"s":"r","x":90.7,"y":-9.5},{"s":"r","x":94,"y":-7.8},{"s":"r","x":97.1,"y":-6.3},{"s":"r","x":100.8,"y":-5},{"s":"r","x":104.6,"y":-3.8},{"s":"r","x":109,"y":-2.9},{"s":"r","x":114.2,"y":-2.2},{"s":"r","x":119.5,"y":-1.7},{"s":"r","x":124.9,"y":-1.4},{"s":"r","x":132,"y":-1.1},{"s":"r","x":141,"y":-0.9},
  {"s":"b","x":1.9,"y":-30.6},{"s":"b","x":10,"y":-30.5},{"s":"b","x":18,"y":-30.4},{"s":"b","x":26,"y":-30.3},{"s":"b","x":34,"y":-29.9},{"s":"b","x":40,"y":-29.7},{"s":"b","x":44.7,"y":-29.4},{"s":"b","x":49,"y":-29.1},{"s":"b","x":53.3,"y":-28.7},{"s":"b","x":57,"y":-28.2},{"s":"b","x":60.7,"y":-27.5},{"s":"b","x":64.5,"y":-26.4},{"s":"b","x":68.2,"y":-25},{"s":"b","x":71.5,"y":-23.5},{"s":"b","x":74.7,"y":-21.8},{"s":"b","x":77.5,"y":-20.1},{"s":"b","x":80,"y":-18.4},{"s":"b","x":82.7,"y":-16.3},{"s":"b","x":85.3,"y":-14.2},{"s":"b","x":88,"y":-12.1},{"s":"b","x":90.7,"y":-10.1},{"s":"b","x":94,"y":-8},{"s":"b","x":97.1,"y":-6},{"s":"b","x":100.8,"y":-4.6},{"s":"b","x":104.6,"y":-3.5},{"s":"b","x":109,"y":-2.6},{"s":"b","x":114.2,"y":-1.9},{"s":"b","x":119.5,"y":-1.6},{"s":"b","x":124.9,"y":-1.3},{"s":"b","x":132,"y":-1},{"s":"b","x":141,"y":-0.8}],
 "iD": [
  {"s":"k","x":5.9,"y":-24.4},{"s":"k","x":10.1,"y":-28.3},{"s":"k","x":14.7,"y":-26.4},{"s":"k","x":19.2,"y":-26.9},{"s":"k","x":23.8,"y":-27.1},{"s":"k","x":28.3,"y":-23.6},{"s":"k","x":32.9,"y":-25.3},{"s":"k","x":37.3,"y":-24.2},{"s":"k","x":42.1,"y":-23.3},{"s":"k","x":46.6,"y":-23.9},{"s":"k","x":51.4,"y":-26.8},{"s":"k","x":56,"y":-26.1},{"s":"k","x":60.8,"y":-24.4},{"s":"k","x":65.4,"y":-24.4},{"s":"k","x":70.4,"y":-26.3},{"s":"k","x":75.2,"y":-16.5},{"s":"k","x":80.1,"y":-17.7},{"s":"k","x":85,"y":-12.7},{"s":"k","x":89.9,"y":-14.9},{"s":"k","x":94.9,"y":-13},{"s":"k","x":99.7,"y":-9.2},{"s":"k","x":104.9,"y":-7.6},{"s":"k","x":109.9,"y":-4.4},{"s":"k","x":114.9,"y":-1.6},{"s":"k","x":120,"y":-1.9},{"s":"k","x":125.1,"y":0.45},{"s":"k","x":130.1,"y":-0.95},{"s":"k","x":135.5,"y":-1.6},{"s":"k","x":140.8,"y":0.3},
  {"s":"r","x":5.9,"y":-25.6},{"s":"r","x":10.1,"y":-27.2},{"s":"r","x":14.7,"y":-25.6},{"s":"r","x":19.2,"y":-25.6},{"s":"r","x":23.8,"y":-23.6},{"s":"r","x":28.3,"y":-25.3},{"s":"r","x":32.9,"y":-25.6},{"s":"r","x":37.3,"y":-25.3},{"s":"r","x":42.1,"y":-24.4},{"s":"r","x":46.6,"y":-25.3},{"s":"r","x":51.4,"y":-28},{"s":"r","x":56,"y":-27.2},{"s":"r","x":60.8,"y":-26.1},{"s":"r","x":65.4,"y":-23},{"s":"r","x":70.4,"y":-19.3},{"s":"r","x":75.2,"y":-16.3},{"s":"r","x":80.1,"y":-17.7},{"s":"r","x":85,"y":-14.9},{"s":"r","x":89.9,"y":-14.7},{"s":"r","x":94.9,"y":-10.6},{"s":"r","x":99.7,"y":-6.3},{"s":"r","x":104.9,"y":-5.1},{"s":"r","x":109.9,"y":-3.6},{"s":"r","x":114.9,"y":-3.4},{"s":"r","x":120,"y":-3},{"s":"r","x":125.1,"y":-1.9},{"s":"r","x":130.1,"y":-2.2},{"s":"r","x":135.5,"y":-2.1},{"s":"r","x":140.8,"y":-2.1},
  {"s":"b","x":5.9,"y":-23.9},{"s":"b","x":10.1,"y":-25.1},{"s":"b","x":14.7,"y":-25.3},{"s":"b","x":19.2,"y":-25},{"s":"b","x":23.8,"y":-24.05},{"s":"b","x":28.3,"y":-24.7},{"s":"b","x":32.9,"y":-26.6},{"s":"b","x":37.3,"y":-25.1},{"s":"b","x":42.1,"y":-24.5},{"s":"b","x":46.6,"y":-24.7},{"s":"b","x":51.4,"y":-27.8},{"s":"b","x":56,"y":-27.2},{"s":"b","x":60.8,"y":-25.6},{"s":"b","x":65.4,"y":-24.7},{"s":"b","x":70.4,"y":-19.9},{"s":"b","x":75.2,"y":-19.3},{"s":"b","x":80.1,"y":-17.1},{"s":"b","x":85,"y":-15.2},{"s":"b","x":89.9,"y":-12.3},{"s":"b","x":94.9,"y":-11.2},{"s":"b","x":99.7,"y":-7},{"s":"b","x":104.9,"y":-4},{"s":"b","x":109.9,"y":-1.6},{"s":"b","x":114.9,"y":-0.6},{"s":"b","x":120,"y":0.1},{"s":"b","x":125.1,"y":0.1},{"s":"b","x":130.1,"y":0.3},{"s":"b","x":135.5,"y":0.2},{"s":"b","x":140.8,"y":-0.1}],
 "fD": [
  {"s":"k","x":1.6,"y":-26.3},{"s":"k","x":12.3,"y":-25.9},{"s":"k","x":22.9,"y":-25.6},{"s":"k","x":33.6,"y":-25.3},{"s":"k","x":44.3,"y":-25},{"s":"k","x":52.8,"y":-24.7},{"s":"k","x":56,"y":-24.3},{"s":"k","x":59.2,"y":-23.7},{"s":"k","x":62.4,"y":-23},{"s":"k","x":65.6,"y":-22.2},{"s":"k","x":68.8,"y":-21.1},{"s":"k","x":72,"y":-19.9},{"s":"k","x":75.2,"y":-18.9},{"s":"k","x":78.4,"y":-18},{"s":"k","x":81,"y":-17},{"s":"k","x":83.7,"y":-15.8},{"s":"k","x":86.4,"y":-14.5},{"s":"k","x":89.1,"y":-13},{"s":"k","x":91.8,"y":-11.1},{"s":"k","x":94.4,"y":-9.2},{"s":"k","x":97,"y":-7.6},{"s":"k","x":99.7,"y":-6.3},{"s":"k","x":103,"y":-5.1},{"s":"k","x":106.1,"y":-4.1},{"s":"k","x":110,"y":-3.4},{"s":"k","x":113.6,"y":-2.85},{"s":"k","x":117.3,"y":-2.4},{"s":"k","x":121,"y":-2.1},{"s":"k","x":125.3,"y":-1.8},{"s":"k","x":129.6,"y":-1.6},{"s":"k","x":135,"y":-1.45},{"s":"k","x":140.3,"y":-1.3},
  {"s":"r","x":1.6,"y":-26.1},{"s":"r","x":12.3,"y":-25.8},{"s":"r","x":22.9,"y":-25.5},{"s":"r","x":33.6,"y":-25.3},{"s":"r","x":44.3,"y":-25},{"s":"r","x":52.8,"y":-24.7},{"s":"r","x":56,"y":-24.3},{"s":"r","x":59.2,"y":-23.7},{"s":"r","x":62.4,"y":-23},{"s":"r","x":65.6,"y":-22.1},{"s":"r","x":68.8,"y":-21},{"s":"r","x":72,"y":-19.8},{"s":"r","x":75.2,"y":-18.6},{"s":"r","x":78.4,"y":-17.5},{"s":"r","x":81,"y":-16.4},{"s":"r","x":83.7,"y":-15.2},{"s":"r","x":86.4,"y":-13.8},{"s":"r","x":89.1,"y":-12.3},{"s":"r","x":91.8,"y":-10.6},{"s":"r","x":94.4,"y":-8.9},{"s":"r","x":97,"y":-7.4},{"s":"r","x":99.7,"y":-6.1},{"s":"r","x":103,"y":-4.9},{"s":"r","x":106.1,"y":-4},{"s":"r","x":110,"y":-3.2},{"s":"r","x":113.6,"y":-2.7},{"s":"r","x":117.3,"y":-2.3},{"s":"r","x":121,"y":-2.1},{"s":"r","x":125.3,"y":-1.95},{"s":"r","x":129.6,"y":-1.9},{"s":"r","x":135,"y":-1.85},{"s":"r","x":140.3,"y":-1.8},
  {"s":"b","x":1.6,"y":-25.9},{"s":"b","x":12.3,"y":-25.7},{"s":"b","x":22.9,"y":-25.5},{"s":"b","x":33.6,"y":-25.3},{"s":"b","x":44.3,"y":-25},{"s":"b","x":52.8,"y":-24.8},{"s":"b","x":56,"y":-24.4},{"s":"b","x":59.2,"y":-23.9},{"s":"b","x":62.4,"y":-23.3},{"s":"b","x":65.6,"y":-22.5},{"s":"b","x":68.8,"y":-21.6},{"s":"b","x":72,"y":-20.6},{"s":"b","x":75.2,"y":-19.5},{"s":"b","x":78.4,"y":-18.3},{"s":"b","x":81,"y":-17},{"s":"b","x":83.7,"y":-15.6},{"s":"b","x":86.4,"y":-14},{"s":"b","x":89.1,"y":-12.3},{"s":"b","x":91.8,"y":-10.5},{"s":"b","x":94.4,"y":-8.7},{"s":"b","x":97,"y":-7.1},{"s":"b","x":99.7,"y":-5.7},{"s":"b","x":103,"y":-4.4},{"s":"b","x":106.1,"y":-3.4},{"s":"b","x":110,"y":-2.6},{"s":"b","x":113.6,"y":-2},{"s":"b","x":117.3,"y":-1.6},{"s":"b","x":121,"y":-1.3},{"s":"b","x":125.3,"y":-1.1},{"s":"b","x":129.6,"y":-1},{"s":"b","x":135,"y":-0.9},{"s":"b","x":140.3,"y":-0.8}]
},
"spacing": 29,
"vconcat": [
 {"spacing": 17, "hconcat": [
  {"bounds": "flush", "spacing": 38, "vconcat": [
   {"width": 484, "height": 266,
    "encoding": {
     "x": {"field": "t", "type": "quantitative", "scale": {"domain": [-80, 9533], "nice": false, "zero": false}, "axis": {"orient": "top", "title": "Time (s)", "values": [0,1000,2000,3000,4000,5000,6000,7000,8000,9000], "labelExpr": "datum.value % 2000 === 0 ? '' + datum.value : ''", "tickSize": {"condition": {"test": "datum.value % 2000 === 0", "value": -10}, "value": -6}, "labelPadding": 21, "titlePadding": -2}},
     "y": {"field": "h", "type": "quantitative", "scale": {"domain": [-3, 1.5], "nice": false, "zero": false}, "axis": {"title": "Heat Rate (µJ/s)", "values": [-3,-2.5,-2,-1.5,-1,-0.5,0,0.5,1], "labelExpr": "datum.value % 1 === 0 ? '' + datum.value : ''", "tickSize": 7, "labelPadding": 7, "titlePadding": 6}}
    },
    "layer": [
     {"data": {"name": "tAk"}, "mark": {"type": "line", "color": "#404040", "strokeWidth": 7, "strokeCap": "round", "strokeJoin": "round"}},
     {"data": {"name": "tAr"}, "mark": {"type": "line", "color": "#ef3b3b", "strokeWidth": 7, "strokeCap": "round", "strokeJoin": "round"}},
     {"data": {"name": "tAb"}, "mark": {"type": "line", "color": "#1e6fe0", "strokeWidth": 7, "strokeCap": "round", "strokeJoin": "round"}}
    ]},
   {"width": 484, "height": 265,
    "encoding": {
     "x": {"field": "x", "type": "quantitative", "scale": {"domain": [-4.8, 150.5], "nice": false, "zero": false}, "axis": {"title": "Molar Ratio", "values": [0,10,20,30,40,50,60,70,80,90,100,110,120,130,140,150], "labelExpr": "datum.value % 20 === 0 ? '' + datum.value : ''", "tickSize": {"condition": {"test": "datum.value % 20 === 0", "value": 8}, "value": 5}, "labelPadding": 7, "titlePadding": 3}},
     "y": {"field": "y", "type": "quantitative", "scale": {"domain": [-45, 5], "nice": false, "zero": false}, "axis": {"title": "Enthalpy (kJ/mol)", "values": [-40,-35,-30,-25,-20,-15,-10,-5,0], "labelExpr": "datum.value % 10 === 0 ? '' + datum.value : ''", "tickSize": 7, "labelPadding": 7, "titlePadding": 4}}
    },
    "layer": [
     {"data": {"name": "iA"}, "mark": {"type": "point", "filled": true, "opacity": 1}, "encoding": {"color": {"field": "s", "type": "nominal", "scale": {"domain": ["k","r","b"], "range": ["#404040","#ef3b3b","#1e6fe0"]}, "legend": null}, "shape": {"field": "s", "type": "nominal", "scale": {"domain": ["k","r","b"], "range": ["square","circle","triangle-up"]}, "legend": null}, "size": {"field": "s", "type": "ordinal", "scale": {"domain": ["k","r","b"], "range": [140, 150, 190]}, "legend": null}}},
     {"data": {"name": "fA"}, "mark": {"type": "line", "strokeWidth": 5, "strokeDash": [5, 6]}, "encoding": {"color": {"field": "s", "type": "nominal", "scale": {"domain": ["k","r","b"], "range": ["#404040","#ef3b3b","#1e6fe0"]}, "legend": null}}},
     {"data": {"values": [{"x": 80, "y": 4.0, "t": "20°C"}]}, "mark": {"type": "text", "font": "Liberation Sans", "fontSize": 40, "fontWeight": "bold", "align": "center", "baseline": "middle", "color": "#000000"}, "encoding": {"text": {"field": "t"}}}
    ]}
  ]},
  {"bounds": "flush", "spacing": 38, "vconcat": [
   {"width": 479, "height": 266,
    "encoding": {
     "x": {"field": "t", "type": "quantitative", "scale": {"domain": [-85, 9448], "nice": false, "zero": false}, "axis": {"orient": "top", "title": "Time (s)", "values": [0,1000,2000,3000,4000,5000,6000,7000,8000,9000], "labelExpr": "datum.value % 2000 === 0 ? '' + datum.value : ''", "tickSize": {"condition": {"test": "datum.value % 2000 === 0", "value": -10}, "value": -6}, "labelPadding": 21, "titlePadding": -2}},
     "y": {"field": "h", "type": "quantitative", "scale": {"domain": [-3, 1.5], "nice": false, "zero": false}, "axis": {"title": "Heat Rate (µJ/s)", "values": [-3,-2.5,-2,-1.5,-1,-0.5,0,0.5,1], "labelExpr": "datum.value % 1 === 0 ? '' + datum.value : ''", "tickSize": 7, "labelPadding": 7, "titlePadding": 6}}
    },
    "layer": [
     {"data": {"name": "tBk"}, "mark": {"type": "line", "color": "#404040", "strokeWidth": 7, "strokeCap": "round", "strokeJoin": "round"}},
     {"data": {"name": "tBr"}, "mark": {"type": "line", "color": "#ef3b3b", "strokeWidth": 7, "strokeCap": "round", "strokeJoin": "round"}},
     {"data": {"name": "tBb"}, "mark": {"type": "line", "color": "#1e6fe0", "strokeWidth": 7, "strokeCap": "round", "strokeJoin": "round"}}
    ]},
   {"width": 479, "height": 265,
    "encoding": {
     "x": {"field": "x", "type": "quantitative", "scale": {"domain": [-4.8, 149.2], "nice": false, "zero": false}, "axis": {"title": "Molar Ratio", "values": [0,10,20,30,40,50,60,70,80,90,100,110,120,130,140], "labelExpr": "datum.value % 20 === 0 ? '' + datum.value : ''", "tickSize": {"condition": {"test": "datum.value % 20 === 0", "value": 8}, "value": 5}, "labelPadding": 7, "titlePadding": 3}},
     "y": {"field": "y", "type": "quantitative", "scale": {"domain": [-45, 5], "nice": false, "zero": false}, "axis": {"title": "Enthalpy (kJ/mol)", "values": [-40,-35,-30,-25,-20,-15,-10,-5,0], "labelExpr": "datum.value % 10 === 0 ? '' + datum.value : ''", "tickSize": 7, "labelPadding": 7, "titlePadding": 4}}
    },
    "layer": [
     {"data": {"name": "iB"}, "mark": {"type": "point", "filled": true, "opacity": 1}, "encoding": {"color": {"field": "s", "type": "nominal", "scale": {"domain": ["k","r","b"], "range": ["#404040","#ef3b3b","#1e6fe0"]}, "legend": null}, "shape": {"field": "s", "type": "nominal", "scale": {"domain": ["k","r","b"], "range": ["square","circle","triangle-up"]}, "legend": null}, "size": {"field": "s", "type": "ordinal", "scale": {"domain": ["k","r","b"], "range": [140, 150, 190]}, "legend": null}}},
     {"data": {"name": "fB"}, "mark": {"type": "line", "strokeWidth": 5, "strokeDash": [5, 6]}, "encoding": {"color": {"field": "s", "type": "nominal", "scale": {"domain": ["k","r","b"], "range": ["#404040","#ef3b3b","#1e6fe0"]}, "legend": null}}},
     {"data": {"values": [{"x": 80.8, "y": 4.0, "t": "25°C"}]}, "mark": {"type": "text", "font": "Liberation Sans", "fontSize": 40, "fontWeight": "bold", "align": "center", "baseline": "middle", "color": "#000000"}, "encoding": {"text": {"field": "t"}}}
    ]}
  ]}
 ]},
 {"spacing": 2, "hconcat": [
  {"bounds": "flush", "spacing": 38, "vconcat": [
   {"width": 484, "height": 263,
    "encoding": {
     "x": {"field": "t", "type": "quantitative", "scale": {"domain": [-120, 9490], "nice": false, "zero": false}, "axis": {"orient": "top", "title": "Time (s)", "values": [0,1000,2000,3000,4000,5000,6000,7000,8000,9000], "labelExpr": "datum.value % 2000 === 0 ? '' + datum.value : ''", "tickSize": {"condition": {"test": "datum.value % 2000 === 0", "value": -10}, "value": -6}, "labelPadding": 25, "titlePadding": -2}},
     "y": {"field": "h", "type": "quantitative", "scale": {"domain": [-3, 1.5], "nice": false, "zero": false}, "axis": {"title": "Heat Rate (µJ/s)", "values": [-3,-2.5,-2,-1.5,-1,-0.5,0,0.5,1], "labelExpr": "datum.value % 1 === 0 ? '' + datum.value : ''", "tickSize": 7, "labelPadding": 7, "titlePadding": 6}}
    },
    "layer": [
     {"data": {"name": "tCk"}, "mark": {"type": "line", "color": "#404040", "strokeWidth": 7, "strokeCap": "round", "strokeJoin": "round"}},
     {"data": {"name": "tCr"}, "mark": {"type": "line", "color": "#ef3b3b", "strokeWidth": 7, "strokeCap": "round", "strokeJoin": "round"}},
     {"data": {"name": "tCb"}, "mark": {"type": "line", "color": "#1e6fe0", "strokeWidth": 7, "strokeCap": "round", "strokeJoin": "round"}}
    ]},
   {"width": 484, "height": 263,
    "encoding": {
     "x": {"field": "x", "type": "quantitative", "scale": {"domain": [-4.8, 150.5], "nice": false, "zero": false}, "axis": {"title": "Molar Ratio", "values": [0,10,20,30,40,50,60,70,80,90,100,110,120,130,140,150], "labelExpr": "datum.value % 20 === 0 ? '' + datum.value : ''", "tickSize": {"condition": {"test": "datum.value % 20 === 0", "value": 8}, "value": 5}, "labelPadding": 11, "labelOffset": 16, "titlePadding": 2}},
     "y": {"field": "y", "type": "quantitative", "scale": {"domain": [-45, 5], "nice": false, "zero": false}, "axis": {"title": "Enthalpy (kJ/mol)", "values": [-40,-35,-30,-25,-20,-15,-10,-5,0], "labelExpr": "datum.value % 10 === 0 ? '' + datum.value : ''", "tickSize": 7, "labelPadding": 7, "titlePadding": 4}}
    },
    "layer": [
     {"data": {"name": "iC"}, "mark": {"type": "point", "filled": true, "opacity": 1}, "encoding": {"color": {"field": "s", "type": "nominal", "scale": {"domain": ["k","r","b"], "range": ["#404040","#ef3b3b","#1e6fe0"]}, "legend": null}, "shape": {"field": "s", "type": "nominal", "scale": {"domain": ["k","r","b"], "range": ["square","circle","triangle-up"]}, "legend": null}, "size": {"field": "s", "type": "ordinal", "scale": {"domain": ["k","r","b"], "range": [140, 150, 190]}, "legend": null}}},
     {"data": {"name": "fC"}, "mark": {"type": "line", "strokeWidth": 5, "strokeDash": [5, 6]}, "encoding": {"color": {"field": "s", "type": "nominal", "scale": {"domain": ["k","r","b"], "range": ["#404040","#ef3b3b","#1e6fe0"]}, "legend": null}}},
     {"data": {"values": [{"x": 80.8, "y": 2.4, "t": "30°C"}]}, "mark": {"type": "text", "font": "Liberation Sans", "fontSize": 40, "fontWeight": "bold", "align": "center", "baseline": "middle", "color": "#000000"}, "encoding": {"text": {"field": "t"}}}
    ]}
  ]},
  {"bounds": "flush", "spacing": 38, "vconcat": [
   {"width": 479, "height": 263,
    "encoding": {
     "x": {"field": "t", "type": "quantitative", "scale": {"domain": [-100, 9417], "nice": false, "zero": false}, "axis": {"orient": "top", "title": "Time (s)", "values": [0,1000,2000,3000,4000,5000,6000,7000,8000,9000], "labelExpr": "datum.value % 2000 === 0 ? '' + datum.value : ''", "tickSize": {"condition": {"test": "datum.value % 2000 === 0", "value": -10}, "value": -6}, "labelPadding": 25, "titlePadding": -2}},
     "y": {"field": "h", "type": "quantitative", "scale": {"domain": [-3, 1.5], "nice": false, "zero": false}, "axis": {"title": "Heat Rate (µJ/s)", "values": [-3,-2.5,-2,-1.5,-1,-0.5,0,0.5,1], "labelExpr": "datum.value % 1 === 0 ? '' + datum.value : ''", "tickSize": 7, "labelPadding": 7, "titlePadding": 6}}
    },
    "layer": [
     {"data": {"name": "tDk"}, "mark": {"type": "line", "color": "#404040", "strokeWidth": 7, "strokeCap": "round", "strokeJoin": "round"}},
     {"data": {"name": "tDr"}, "mark": {"type": "line", "color": "#ef3b3b", "strokeWidth": 7, "strokeCap": "round", "strokeJoin": "round"}},
     {"data": {"name": "tDb"}, "mark": {"type": "line", "color": "#1e6fe0", "strokeWidth": 7, "strokeCap": "round", "strokeJoin": "round"}}
    ]},
   {"width": 479, "height": 263,
    "encoding": {
     "x": {"field": "x", "type": "quantitative", "scale": {"domain": [-5.1, 148.1], "nice": false, "zero": false}, "axis": {"title": "Molar Ratio", "values": [0,10,20,30,40,50,60,70,80,90,100,110,120,130,140], "labelExpr": "datum.value % 20 === 0 ? '' + datum.value : ''", "tickSize": {"condition": {"test": "datum.value % 20 === 0", "value": 8}, "value": 5}, "labelPadding": 6, "titlePadding": 5}},
     "y": {"field": "y", "type": "quantitative", "scale": {"domain": [-45, 5], "nice": false, "zero": false}, "axis": {"title": "Enthalpy (kJ/mol)", "values": [-40,-35,-30,-25,-20,-15,-10,-5,0], "labelExpr": "datum.value % 10 === 0 ? '' + datum.value : ''", "tickSize": 7, "labelPadding": 7, "titlePadding": 4}}
    },
    "layer": [
     {"data": {"name": "iD"}, "mark": {"type": "point", "filled": true, "opacity": 1}, "encoding": {"color": {"field": "s", "type": "nominal", "scale": {"domain": ["k","r","b"], "range": ["#404040","#ef3b3b","#1e6fe0"]}, "legend": null}, "shape": {"field": "s", "type": "nominal", "scale": {"domain": ["k","r","b"], "range": ["square","circle","triangle-up"]}, "legend": null}, "size": {"field": "s", "type": "ordinal", "scale": {"domain": ["k","r","b"], "range": [140, 150, 190]}, "legend": null}}},
     {"data": {"name": "fD"}, "mark": {"type": "line", "strokeWidth": 5, "strokeDash": [5, 6]}, "encoding": {"color": {"field": "s", "type": "nominal", "scale": {"domain": ["k","r","b"], "range": ["#404040","#ef3b3b","#1e6fe0"]}, "legend": null}}},
     {"data": {"values": [{"x": 80.7, "y": 2.4, "t": "40°C"}]}, "mark": {"type": "text", "font": "Liberation Sans", "fontSize": 40, "fontWeight": "bold", "align": "center", "baseline": "middle", "color": "#000000"}, "encoding": {"text": {"field": "t"}}}
    ]}
  ]}
 ]}
]
}
